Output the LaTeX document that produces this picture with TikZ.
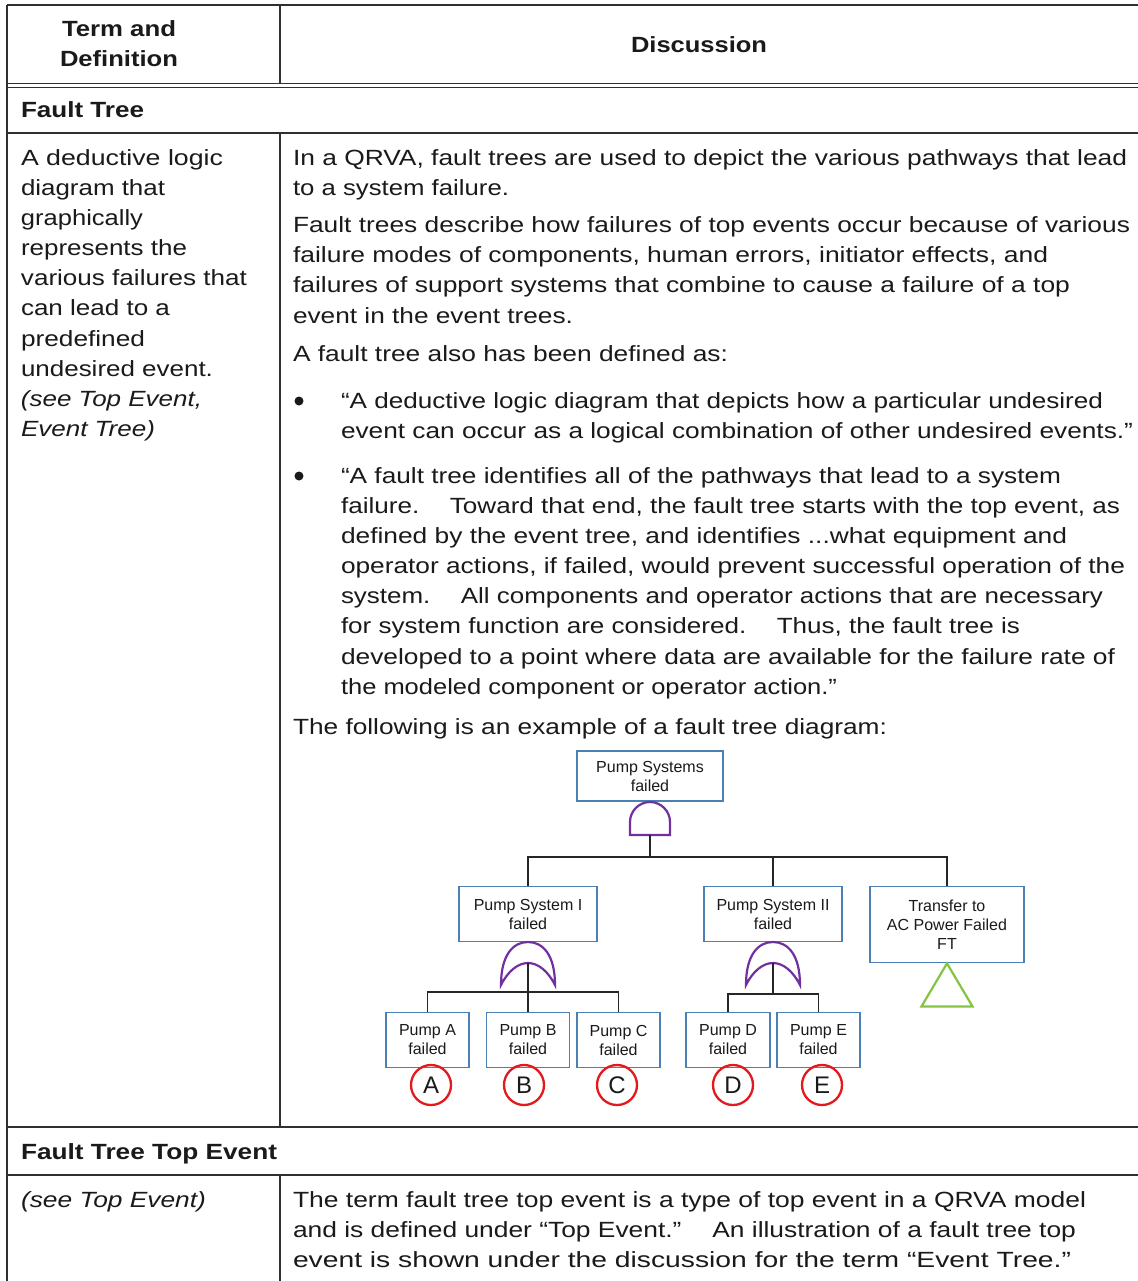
\documentclass[tikz,border=0pt]{standalone}
\usepackage{fontspec}
\setmainfont{Liberation Sans}
\usepackage{graphicx}
\usetikzlibrary{calc}

\definecolor{rulegray}{HTML}{303030}
\definecolor{boxblue}{HTML}{4A80B4}
\definecolor{gatepurple}{HTML}{7030A0}
\definecolor{xfergreen}{HTML}{84C441}
\definecolor{circred}{HTML}{E3191E}
\definecolor{ink}{HTML}{1A1A1A}

% stretch one line of text horizontally to a given width (in bp)
\newcommand\fitw[2]{\resizebox{#1bp}{\height}{#2}}

\begin{document}
\begin{tikzpicture}[x=1bp,y=-1bp,
  txt/.style={anchor=base west,inner sep=0pt,outer sep=0pt,text=ink,
              font=\fontsize{22bp}{30bp}\selectfont},
  hd/.style={txt,font=\fontsize{22bp}{30bp}\selectfont\bfseries},
  itx/.style={txt,font=\fontsize{22bp}{30bp}\selectfont\itshape},
  tabrule/.style={draw=rulegray,line width=1.4bp},
  ftbox/.style={draw=boxblue,line width=1.8bp,fill=white,inner sep=0pt,
                align=center,text=ink,font=\fontsize{16bp}{19bp}\selectfont},
  link/.style={draw=black!85,line width=1.8bp},
  gate/.style={draw=gatepurple,line width=2.2bp},
  leaf/.style={circle,draw=circred,line width=2.3bp,minimum size=40bp,
               inner sep=0pt,font=\fontsize{24bp}{24bp}\selectfont,text=ink},
  bul/.style={circle,fill=ink,minimum size=9bp,inner sep=0pt},
  andgate/.pic={
    \draw[gate] (-20,0) -- (-20,-13)
      .. controls (-20,-24) and (-11,-33) .. (0,-33)
      .. controls (11,-33) and (20,-24) .. (20,-13) -- (20,0) -- cycle;
  },
  orgate/.pic={
    \draw[gate] (-27,0)
      .. controls (-27,-30) and (-15,-43) .. (0,-43)
      .. controls (15,-43) and (27,-30) .. (27,0)
      .. controls (20,-14) and (10,-22) .. (0,-22)
      .. controls (-10,-22) and (-20,-14) .. cycle;
    \coordinate (-in) at (0,-22);
  }]

\useasboundingbox (0,0) rectangle (1138,1281);
\fill[white] (0,0) rectangle (1138,1281);

% ---------- table rules ----------
\draw[tabrule] (7,5) -- (1138,5);
\draw[tabrule] (7,5) -- (7,1281);
\draw[tabrule] (280,5) -- (280,84);
\draw[tabrule] (280,133) -- (280,1127);
\draw[tabrule] (280,1175) -- (280,1281);
\draw[tabrule,line width=1.1bp] (7,83.5) -- (1138,83.5);
\draw[tabrule,line width=1.1bp] (7,87.5) -- (1138,87.5);
\draw[tabrule] (7,133) -- (1138,133);
\draw[tabrule] (7,1127) -- (1138,1127);
\draw[tabrule] (7,1175) -- (1138,1175);

% ---------- header ----------
\node[hd] (hterm) at (62,36) {\fitw{114}{Term and}};
\node[hd] (hdef) at (60,66) {\fitw{118}{Definition}};
\node[hd] (hdisc) at (631,52) {\fitw{136}{Discussion}};
\node[hd] (hft) at (21,117) {\fitw{123}{Fault Tree}};

% ---------- definition column ----------
\node[txt] (l1) at (21,165) {\fitw{202}{A deductive logic}};
\node[txt] (l2) at (21,195) {\fitw{144}{diagram that}};
\node[txt] (l3) at (21,225) {\fitw{122}{graphically}};
\node[txt] (l4) at (21,255) {\fitw{166}{represents the}};
\node[txt] (l5) at (21,285) {\fitw{226}{various failures that}};
\node[txt] (l6) at (21,315) {\fitw{149}{can lead to a}};
\node[txt] (l7) at (21,346) {\fitw{124}{predefined}};
\node[txt] (l8) at (21,376) {\fitw{192}{undesired event.}};
\node[itx] (l9) at (21,406) {\fitw{181}{(see Top Event,}};
\node[itx] (l10) at (21,436) {\fitw{134}{Event Tree)}};

% ---------- discussion column ----------
\node[txt] (r1) at (293,165) {\fitw{834}{In a QRVA, fault trees are used to depict the various pathways that lead}};
\node[txt] (r2) at (293,195) {\fitw{216}{to a system failure.}};
\node[txt] (r3) at (293,232) {\fitw{837}{Fault trees describe how failures of top events occur because of various}};
\node[txt] (r4) at (293,262) {\fitw{755}{failure modes of components, human errors, initiator effects, and}};
\node[txt] (r5) at (293,292) {\fitw{777}{failures of support systems that combine to cause a failure of a top}};
\node[txt] (r6) at (293,323) {\fitw{280}{event in the event trees.}};
\node[txt] (r7) at (293,361) {\fitw{435}{A fault tree also has been defined as:}};

\node[bul] (d1) at (299,401) {};
\node[txt] (b1a) at (341,408) {\fitw{762}{“A deductive logic diagram that depicts how a particular undesired}};
\node[txt] (b1b) at (341,438) {\fitw{792}{event can occur as a logical combination of other undesired events.”}};

\node[bul] (d2) at (299,476) {};
\node[txt] (b2a) at (341,483) {\fitw{720}{“A fault tree identifies all of the pathways that lead to a system}};
\node[txt] (b2b) at (341,513) {\fitw{779}{failure.\hspace{0.8em} Toward that end, the fault tree starts with the top event, as}};
\node[txt] (b2c) at (341,543) {\fitw{726}{defined by the event tree, and identifies ...what equipment and}};
\node[txt] (b2d) at (341,573) {\fitw{784}{operator actions, if failed, would prevent successful operation of the}};
\node[txt] (b2e) at (341,603) {\fitw{762}{system.\hspace{0.8em} All components and operator actions that are necessary}};
\node[txt] (b2f) at (341,633) {\fitw{679}{for system function are considered.\hspace{0.8em} Thus, the fault tree is}};
\node[txt] (b2g) at (341,664) {\fitw{774}{developed to a point where data are available for the failure rate of}};
\node[txt] (b2h) at (341,694) {\fitw{496}{the modeled component or operator action.”}};

\node[txt] (r8) at (293,734) {\fitw{594}{The following is an example of a fault tree diagram:}};

% ---------- fault tree example ----------
\node[ftbox,minimum width=146bp,minimum height=50bp] (top) at (650,776) {Pump Systems\\failed};
\node[ftbox,minimum width=138bp,minimum height=55bp] (ps1) at (528,914) {Pump System I\\failed};
\node[ftbox,minimum width=138bp,minimum height=55bp] (ps2) at (773,914) {Pump System II\\failed};
\node[ftbox,minimum width=154bp,minimum height=76bp] (xfer) at (947,924.5) {Transfer to\\AC Power Failed\\FT};

\node[ftbox,minimum width=83bp,minimum height=55bp] (pa) at (427.5,1040) {Pump A\\failed};
\node[ftbox,minimum width=83bp,minimum height=55bp] (pb) at (528,1040) {Pump B\\failed};
\node[ftbox,minimum width=83bp,minimum height=55bp] (pc) at (618.5,1040) {Pump C\\failed};
\node[ftbox,minimum width=84bp,minimum height=55bp] (pd) at (728,1040) {Pump D\\failed};
\node[ftbox,minimum width=83bp,minimum height=55bp] (pe) at (818.5,1040) {Pump E\\failed};

% top AND gate and its branches
\coordinate (g0) at (650,835);
\pic at (g0) {andgate};
\coordinate (bar0) at (650,857);
\draw[link] (g0) -- (bar0);
\draw[link] (ps1.north) |- (bar0) -| (xfer.north);
\draw[link] (ps2.north) -- (ps2.north |- bar0);

% OR gate under Pump System I
\pic (g1) at (528,985) {orgate};
\coordinate (bar1) at (528,992);
\draw[link] (g1-in) -- (bar1);
\draw[link] (pa.north) |- (bar1) -| (pc.north);
\draw[link] (pb.north) -- (pb.north |- bar1);

% OR gate under Pump System II
\pic (g2) at (773,985) {orgate};
\coordinate (bar2) at (773,994);
\draw[link] (g2-in) -- (bar2);
\draw[link] (pd.north) |- (bar2) -| (pe.north);

% transfer-in triangle
\draw[draw=xfergreen,line width=2.2bp] (xfer.south) -- ++(-25.5,43) -- ++(51,0) -- cycle;

% basic events
\node[leaf] (ca) at (431,1085) {A};
\node[leaf] (cb) at (524,1085) {B};
\node[leaf] (cc) at (617,1085) {C};
\node[leaf] (cd) at (733,1085) {D};
\node[leaf] (ce) at (822,1085) {E};

% ---------- next entry ----------
\node[hd] (hftte) at (21,1159) {\fitw{256}{Fault Tree Top Event}};
\node[itx] (f1) at (21,1207) {\fitw{185}{(see Top Event)}};
\node[txt] (f2) at (293,1207) {\fitw{793}{The term fault tree top event is a type of top event in a QRVA model}};
\node[txt] (f3) at (293,1237) {\fitw{783}{and is defined under “Top Event.”\hspace{0.8em} An illustration of a fault tree top}};
\node[txt] (f4) at (293,1267) {\fitw{778}{event is shown under the discussion for the term “Event Tree.”}};

\end{tikzpicture}
\end{document}
